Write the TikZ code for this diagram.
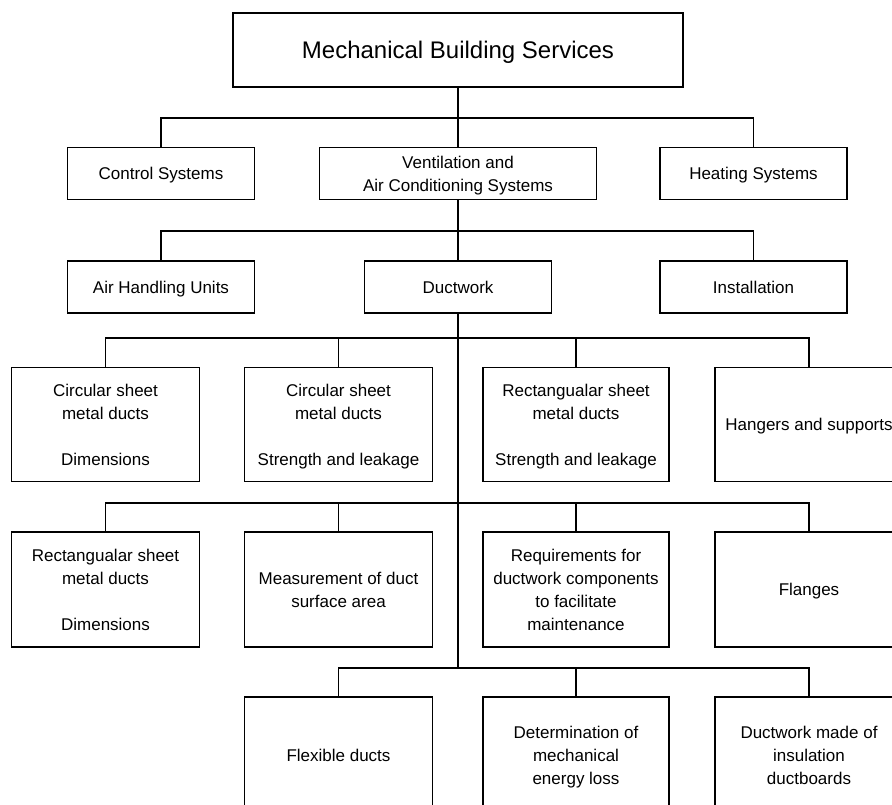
\documentclass[tikz,border=0pt]{standalone}
\usepackage{fontspec}
\setmainfont{Liberation Sans}
\begin{document}
\begin{tikzpicture}[x=1pt,y=-1pt,
  box/.style={draw, line width=1.7pt, align=center, inner sep=0pt,
    font=\fontsize{17}{23}\selectfont, text depth=0pt,
    execute at begin node=\rule{0pt}{12.2pt}},
  smallbox/.style={box, minimum width=187pt, minimum height=52pt},
  bigbox/.style={box, minimum width=188pt, minimum height=114pt},
  conn/.style={line width=1.3pt}]
\useasboundingbox (0,0) rectangle (892,805);
\clip (0,0) rectangle (892,805);
\fill[white] (0,0) rectangle (892,805);

% top
\node[box, minimum width=450pt, minimum height=74pt, font=\fontsize{24}{28}\selectfont,
  execute at begin node=\rule{0pt}{17.2pt}] (top) at (458,50) {Mechanical Building Services};

% row 2
\node[smallbox] (cs) at (161,173.5) {Control Systems};
\node[smallbox, minimum width=277pt] (vac) at (458,173.5) {Ventilation and\\Air Conditioning Systems};
\node[smallbox] (hs) at (753.5,173.5) {Heating Systems};

% row 3
\node[smallbox] (ahu) at (161,287) {Air Handling Units};
\node[smallbox] (duct) at (458,287) {Ductwork};
\node[smallbox] (inst) at (753.5,287) {Installation};

% row 4
\node[bigbox] (r4a) at (105.5,424.5) {Circular sheet\\metal ducts\\[23pt]Dimensions};
\node[bigbox] (r4b) at (338.5,424.5) {Circular sheet\\metal ducts\\[23pt]Strength and leakage};
\node[bigbox, minimum width=186pt] (r4c) at (576,424.5) {Rectangualar sheet\\metal ducts\\[23pt]Strength and leakage};
\node[bigbox] (r4d) at (809,424.5) {Hangers and supports};

% row 5
\node[bigbox, minimum height=115pt] (r5a) at (105.5,589.5) {Rectangualar sheet\\metal ducts\\[23pt]Dimensions};
\node[bigbox, minimum height=115pt] (r5b) at (338.5,589.5) {Measurement of duct\\surface area};
\node[bigbox, minimum height=115pt, minimum width=186pt] (r5c) at (576,589.5) {Requirements for\\ductwork components\\to facilitate\\maintenance};
\node[bigbox, minimum height=115pt] (r5d) at (809,589.5) {Flanges};

% row 6
\node[bigbox, minimum height=116pt] (r6b) at (338.5,755) {Flexible ducts};
\node[bigbox, minimum height=116pt, minimum width=186pt] (r6c) at (576,755) {Determination of\\mechanical\\energy loss};
\node[bigbox, minimum height=116pt] (r6d) at (809,755) {Ductwork made of\\insulation\\ductboards};

% connectors
\coordinate (b1) at (458,118);
\coordinate (b2) at (458,231);
\coordinate (b3) at (458,338);
\coordinate (b4) at (458,503);
\coordinate (b5) at (458,668);

\draw[conn] (top.south) -- (vac.north);
\draw[conn] (cs.north) |- (b1) -| (hs.north);

\draw[conn] (vac.south) -- (duct.north);
\draw[conn] (ahu.north) |- (b2) -| (inst.north);

\draw[conn] (duct.south) -- (b5);
\draw[conn] (r4a.north) |- (b3) -| (r4d.north);
\draw[conn] (r4b.north) -- (r4b.north |- b3);
\draw[conn] (r4c.north) -- (r4c.north |- b3);

\draw[conn] (r5a.north) |- (b4) -| (r5d.north);
\draw[conn] (r5b.north) -- (r5b.north |- b4);
\draw[conn] (r5c.north) -- (r5c.north |- b4);

\draw[conn] (r6b.north) |- (b5) -| (r6d.north);
\draw[conn] (r6c.north) -- (r6c.north |- b5);
\end{tikzpicture}
\end{document}
